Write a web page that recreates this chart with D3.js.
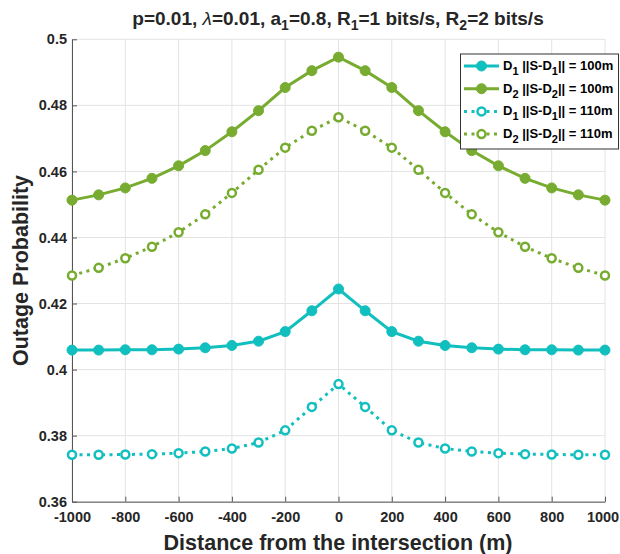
<!DOCTYPE html>
<html>
<head>
<meta charset="utf-8">
<script src="https://cdn.jsdelivr.net/npm/d3@7"></script>
<style>
  body { margin: 0; background: #fff; }
  svg { display: block; font-family: "Liberation Sans", Arial, sans-serif; }
</style>
</head>
<body>
<div id="chart"></div>
<script>
const distances = [-1000, -900, -800, -700, -600, -500, -400, -300, -200, -100, 0,
                   100, 200, 300, 400, 500, 600, 700, 800, 900, 1000];

const d1Near = [0.4059, 0.4059, 0.4060, 0.4060, 0.4062, 0.4066, 0.4073, 0.4086, 0.4115, 0.4178, 0.4244,
                0.4178, 0.4115, 0.4086, 0.4073, 0.4066, 0.4062, 0.4060, 0.4060, 0.4059, 0.4059];
const d2Near = [0.4513, 0.4529, 0.4550, 0.4579, 0.4617, 0.4663, 0.4720, 0.4784, 0.4854, 0.4905, 0.4946,
                0.4905, 0.4854, 0.4784, 0.4720, 0.4663, 0.4617, 0.4579, 0.4550, 0.4529, 0.4513];
const d1Far = [0.3742, 0.3742, 0.3743, 0.3744, 0.3747, 0.3752, 0.3761, 0.3779, 0.3816, 0.3887, 0.3956,
               0.3887, 0.3816, 0.3779, 0.3761, 0.3752, 0.3747, 0.3744, 0.3743, 0.3742, 0.3742];
const d2Far = [0.4285, 0.4308, 0.4337, 0.4372, 0.4416, 0.4470, 0.4535, 0.4605, 0.4672, 0.4723, 0.4764,
               0.4723, 0.4672, 0.4605, 0.4535, 0.4470, 0.4416, 0.4372, 0.4337, 0.4308, 0.4285];

const xTicks = [-1000, -800, -600, -400, -200, 0, 200, 400, 600, 800, 1000];
const xTickLabels = ['-1000', '-800', '-600', '-400', '-200', '0', '200', '400', '600', '800', '1000'];
const yTicks = [0.36, 0.38, 0.4, 0.42, 0.44, 0.46, 0.48, 0.5];
const yTickLabels = ['0.36', '0.38', '0.4', '0.42', '0.44', '0.46', '0.48', '0.5'];

const cyan = '#12bfbf';
const green = '#77ac30';

const series = [
  { node: 'D', sub: '1', dist: '100m', values: d1Near, color: cyan, dotted: false },
  { node: 'D', sub: '2', dist: '100m', values: d2Near, color: green, dotted: false },
  { node: 'D', sub: '1', dist: '110m', values: d1Far, color: cyan, dotted: true },
  { node: 'D', sub: '2', dist: '110m', values: d2Far, color: green, dotted: true }
];

const W = 620, H = 554;
const margin = { top: 39.3, right: 15, bottom: 52.3, left: 72 };

const svg = d3.select('#chart').append('svg')
  .attr('width', W).attr('height', H);

const x = d3.scaleLinear().domain([-1000, 1000]).range([margin.left, W - margin.right]);
const y = d3.scaleLinear().domain([0.36, 0.5]).range([H - margin.bottom, margin.top]);

// grid
const grid = svg.append('g').attr('stroke', '#e3e3e3').attr('stroke-width', 1);
grid.selectAll('.gx').data(xTicks).join('line')
  .attr('x1', d => x(d)).attr('x2', d => x(d))
  .attr('y1', y(0.36)).attr('y2', y(0.5));
grid.selectAll('.gy').data(yTicks).join('line')
  .attr('y1', d => y(d)).attr('y2', d => y(d))
  .attr('x1', x(-1000)).attr('x2', x(1000));

// axes
const xAxis = svg.append('g')
  .attr('transform', `translate(0,${y(0.36)})`)
  .call(d3.axisBottom(x).tickValues(xTicks).tickFormat((d, i) => xTickLabels[i])
    .tickSizeInner(-5).tickSizeOuter(0).tickPadding(10));
const yAxis = svg.append('g')
  .attr('transform', `translate(${x(-1000)},0)`)
  .call(d3.axisLeft(y).tickValues(yTicks).tickFormat((d, i) => yTickLabels[i])
    .tickSizeInner(-5).tickSizeOuter(0).tickPadding(5));

[xAxis, yAxis].forEach(a => {
  a.select('.domain').attr('stroke', '#555').attr('stroke-width', 1);
  a.selectAll('.tick line').attr('stroke', '#555');
  a.selectAll('.tick text').attr('fill', '#262626')
    .style('font-size', '14.5px').style('font-weight', 'bold');
});
// keep the last x label inside the page
xAxis.selectAll('.tick text').filter(d => d === 1000).attr('dx', -2.5);

// lines and markers
const line = d3.line()
  .x((d, i) => x(distances[i]))
  .y(d => y(d));

series.forEach(s => {
  svg.append('path')
    .datum(s.values)
    .attr('fill', 'none')
    .attr('stroke', s.color)
    .attr('stroke-width', 3)
    .attr('stroke-dasharray', s.dotted ? '3,4.5' : null)
    .attr('d', line);
  svg.append('g').selectAll('circle').data(s.values).join('circle')
    .attr('cx', (d, i) => x(distances[i]))
    .attr('cy', d => y(d))
    .attr('r', s.dotted ? 4 : 5)
    .attr('fill', s.dotted ? '#fff' : s.color)
    .attr('stroke', s.color)
    .attr('stroke-width', s.dotted ? 2.5 : 1);
});

// title with subscripts
const title = svg.append('text')
  .attr('x', 338).attr('y', 25)
  .attr('text-anchor', 'middle')
  .attr('fill', '#262626')
  .style('font-size', '19px').style('font-weight', 'bold');
const titleParts = [
  ['p=0.01, ', 'n'], ['\u03bb', 'lam'], ['=0.01, a', 'n'], ['1', 'sub'], ['=0.8, R', 'up'],
  ['1', 'sub'], ['=1 bits/s, R', 'up'], ['2', 'sub'], ['=2 bits/s', 'up']
];
titleParts.forEach(([t, kind]) => {
  const ts = title.append('tspan').text(t);
  if (kind === 'sub') ts.attr('dy', 5).style('font-size', '14px');
  if (kind === 'up') ts.attr('dy', -5);
  if (kind === 'lam') ts.style('font-weight', 'normal').style('font-style', 'italic');
});

// axis labels
svg.append('text')
  .attr('x', 338).attr('y', 550)
  .attr('text-anchor', 'middle')
  .attr('fill', '#262626')
  .style('font-size', '21.5px').style('font-weight', 'bold')
  .text('Distance from the intersection (m)');
svg.append('text')
  .attr('transform', `translate(28,${(y(0.36) + y(0.5)) / 2}) rotate(-90)`)
  .attr('text-anchor', 'middle')
  .attr('fill', '#262626')
  .style('font-size', '21.5px').style('font-weight', 'bold')
  .text('Outage Probability');

// legend
const lg = svg.append('g');
lg.append('rect')
  .attr('x', 460.5).attr('y', 54)
  .attr('width', 158).attr('height', 95)
  .attr('fill', '#fff').attr('stroke', '#333').attr('stroke-width', 1);
series.forEach((s, i) => {
  const cy = 66 + i * 22.7;
  lg.append('line')
    .attr('x1', 464).attr('x2', 499).attr('y1', cy).attr('y2', cy)
    .attr('stroke', s.color).attr('stroke-width', 3)
    .attr('stroke-dasharray', s.dotted ? '3,4.5' : null);
  lg.append('circle')
    .attr('cx', 481.5).attr('cy', cy)
    .attr('r', s.dotted ? 4 : 5)
    .attr('fill', s.dotted ? '#fff' : s.color)
    .attr('stroke', s.color).attr('stroke-width', s.dotted ? 2.5 : 1);
  const t = lg.append('text')
    .attr('x', 503).attr('y', cy + 4)
    .attr('fill', '#000')
    .style('font-size', '13px').style('font-weight', 'bold');
  t.append('tspan').text(s.node);
  t.append('tspan').text(s.sub).attr('dy', 5).style('font-size', '11px');
  t.append('tspan').text(' ||S-' + s.node).attr('dy', -5);
  t.append('tspan').text(s.sub).attr('dy', 5).style('font-size', '11px');
  t.append('tspan').text('|| = ' + s.dist).attr('dy', -5);
});
</script>
</body>
</html>
